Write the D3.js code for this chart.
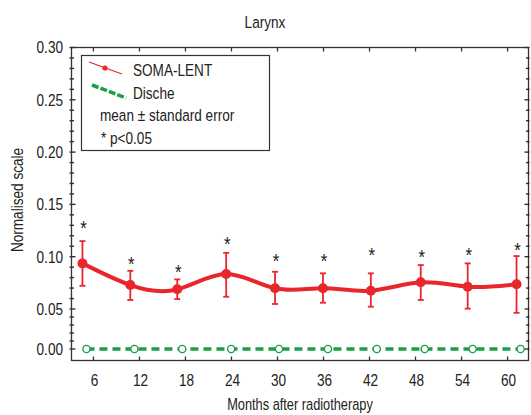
<!DOCTYPE html>
<html>
<head>
<meta charset="utf-8">
<script src="https://cdn.jsdelivr.net/npm/d3@7"></script>
<style>
body { margin: 0; background: #fff; }
text { font-family: "Liberation Sans", Arial, sans-serif; fill: #222; }
</style>
</head>
<body>
<script>
// months (slightly offset per series as in the original)
var somaMonths = [4.57, 10.81, 16.93, 23.31, 29.68, 35.93, 42.17, 48.68, 54.8, 61.17];
var somaMean   = [0.0936, 0.0729, 0.0688, 0.0834, 0.0698, 0.0698, 0.0675, 0.0755, 0.0713, 0.0736];
var somaUpper  = [0.1149, 0.0865, 0.0783, 0.1037, 0.0856, 0.0841, 0.0841, 0.0920, 0.0936, 0.1006];
var somaLower  = [0.0722, 0.0586, 0.0595, 0.0617, 0.0548, 0.0560, 0.0522, 0.0586, 0.0503, 0.0452];
var starLevel  = [0.1308, 0.0968, 0.0888, 0.1158, 0.0993, 0.0993, 0.1056, 0.1031, 0.1056, 0.1104];

var dischMonths = [5.09, 11.34, 17.58, 23.96, 30.2, 36.58, 42.95, 49.2, 55.45, 61.7];
var dischMean   = [0, 0, 0, 0, 0, 0, 0, 0, 0, 0];

var xTicks = [6, 12, 18, 24, 30, 36, 42, 48, 54, 60];
var yTicks = [0, 0.05, 0.10, 0.15, 0.20, 0.25, 0.30];
var legendItems = ["SOMA-LENT", "Dische"];

var W = 531, H = 415;
var pLeft = 71.5, pRight = 528.5, pTop = 47.5, pBottom = 360.5;
var red = "#e8262c", green = "#1a9f47";

var svg = d3.select("body").append("svg")
    .attr("width", W)
    .attr("height", H);

var x = d3.scaleLinear().domain([3.14, 62.73]).range([pLeft, pRight]);
// the original's bottom label sits a little above the frame
var y = d3.scaleLinear().domain([-0.0105, 0, 0.05, 0.30]).range([pBottom, 349, 309, pTop]);

//title
svg.append("text")
    .attr("x", 265).attr("y", 28)
    .attr("text-anchor", "middle")
    .attr("font-size", "17px")
    .text("Larynx");

//frame
svg.append("rect")
    .attr("x", pLeft).attr("y", pTop)
    .attr("width", pRight - pLeft).attr("height", pBottom - pTop)
    .attr("fill", "none")
    .attr("stroke", "#333")
    .attr("stroke-width", 1.3);

//x ticks, top and bottom
xTicks.forEach(function(t){
    svg.append("line").attr("x1", x(t)).attr("x2", x(t))
        .attr("y1", pBottom).attr("y2", pBottom - 4)
        .attr("stroke", "#333").attr("stroke-width", 1.3);
    svg.append("line").attr("x1", x(t)).attr("x2", x(t))
        .attr("y1", pTop).attr("y2", pTop + 4)
        .attr("stroke", "#333").attr("stroke-width", 1.3);
    svg.append("text")
        .attr("x", x(t) + 1).attr("y", 386)
        .attr("text-anchor", "middle")
        .attr("font-size", "17px")
        .text(t);
});

//y ticks, minor every 0.01
var i;
for (i = 0; i <= 30; i++) {
    var v = i / 100;
    var major = (i % 5 === 0);
    var len = major ? 4 : 2.5;
    svg.append("line").attr("x1", pLeft - 2).attr("x2", pLeft + len)
        .attr("y1", y(v)).attr("y2", y(v))
        .attr("stroke", "#333").attr("stroke-width", 1.4);
    svg.append("line").attr("x1", pRight + 1).attr("x2", pRight - len)
        .attr("y1", y(v)).attr("y2", y(v))
        .attr("stroke", "#333").attr("stroke-width", 1.4);
}
yTicks.forEach(function(t){
    svg.append("text")
        .attr("x", 63).attr("y", y(t) + 6)
        .attr("text-anchor", "end")
        .attr("font-size", "17px")
        .text(t.toFixed(2));
});

//axis titles
svg.append("text")
    .attr("x", 300).attr("y", 410)
    .attr("text-anchor", "middle")
    .attr("font-size", "16px")
    .text("Months after radiotherapy");
svg.append("text")
    .attr("transform", "translate(23,200) rotate(-90)")
    .attr("text-anchor", "middle")
    .attr("font-size", "17px")
    .text("Normalised scale");

//Dische series
var dische = dischMonths.map(function(m, k){ return {x: m, y: dischMean[k]}; });
svg.append("path")
    .datum(dische)
    .attr("fill", "none")
    .attr("stroke", green)
    .attr("stroke-width", 3.5)
    .attr("stroke-dasharray", "8,5")
    .attr("d", d3.line().x(function(d){return x(d.x)}).y(function(d){return y(d.y)}));
svg.selectAll("circle.dis")
    .data(dische).enter().append("circle")
    .attr("class", "dis")
    .attr("cx", function(d){return x(d.x)})
    .attr("cy", function(d){return y(d.y)})
    .attr("r", 3.6)
    .attr("fill", "#fff")
    .attr("stroke", green)
    .attr("stroke-width", 1.4);

//SOMA-LENT series
var soma = somaMonths.map(function(m, k){
    return {x: m, y: somaMean[k], hi: somaUpper[k], lo: somaLower[k], s: starLevel[k]};
});
svg.selectAll("line.err")
    .data(soma).enter().append("line")
    .attr("class", "err")
    .attr("x1", function(d){return x(d.x)}).attr("x2", function(d){return x(d.x)})
    .attr("y1", function(d){return y(d.hi)}).attr("y2", function(d){return y(d.lo)})
    .attr("stroke", red).attr("stroke-width", 1.8);
["hi", "lo"].forEach(function(key){
    svg.selectAll("line.cap" + key)
        .data(soma).enter().append("line")
        .attr("class", "cap" + key)
        .attr("x1", function(d){return x(d.x) - 3}).attr("x2", function(d){return x(d.x) + 3})
        .attr("y1", function(d){return y(d[key])}).attr("y2", function(d){return y(d[key])})
        .attr("stroke", red).attr("stroke-width", 1.8);
});
svg.append("path")
    .datum(soma)
    .attr("fill", "none")
    .attr("stroke", red)
    .attr("stroke-width", 4)
    .attr("d", d3.line().curve(d3.curveNatural)
        .x(function(d){return x(d.x)}).y(function(d){return y(d.y)}));
svg.selectAll("circle.soma")
    .data(soma).enter().append("circle")
    .attr("class", "soma")
    .attr("cx", function(d){return x(d.x)})
    .attr("cy", function(d){return y(d.y)})
    .attr("r", 5)
    .attr("fill", red);

//significance stars
svg.selectAll("text.star")
    .data(soma).enter().append("text")
    .attr("class", "star")
    .attr("x", function(d){return x(d.x) + 1})
    .attr("y", function(d){return y(d.s) + 11})
    .attr("text-anchor", "middle")
    .attr("font-size", "21px")
    .attr("fill", "#3a3a3a")
    .text("*");

//legend
var lg = svg.append("g");
lg.append("rect")
    .attr("x", 81.5).attr("y", 55.5)
    .attr("width", 188).attr("height", 95)
    .attr("fill", "#fff")
    .attr("stroke", "#333")
    .attr("stroke-width", 1.2);
lg.append("line").attr("x1", 89).attr("y1", 62).attr("x2", 122).attr("y2", 74)
    .attr("stroke", red).attr("stroke-width", 1.3);
lg.append("circle").attr("cx", 105).attr("cy", 68).attr("r", 2.6).attr("fill", red);
lg.append("line").attr("x1", 92).attr("y1", 85).attr("x2", 126).attr("y2", 98)
    .attr("stroke", green).attr("stroke-width", 3.5).attr("stroke-dasharray", "7,2");
lg.selectAll("text.leg")
    .data(legendItems).enter().append("text")
    .attr("class", "leg")
    .attr("x", 133)
    .attr("y", function(d, k){return 76 + k * 23})
    .attr("font-size", "17px")
    .text(function(d){return d});
lg.append("text").attr("x", 100).attr("y", 121).attr("font-size", "17px")
    .text("mean \u00b1 standard error");
lg.append("text").attr("x", 101).attr("y", 144).attr("font-size", "17px")
    .text("* p<0.05");

// squeeze every label horizontally to mimic the condensed face of the original
svg.selectAll("text").each(function(){
    var t = d3.select(this);
    var tr = t.attr("transform");
    if (tr) {
        t.attr("transform", tr + " scale(0.8,1)");
    } else {
        var tx = +t.attr("x"), ty = +t.attr("y");
        t.attr("transform", "translate(" + tx + "," + ty + ") scale(0.8,1) translate(" + (-tx) + "," + (-ty) + ")");
    }
});
</script>
</body>
</html>
